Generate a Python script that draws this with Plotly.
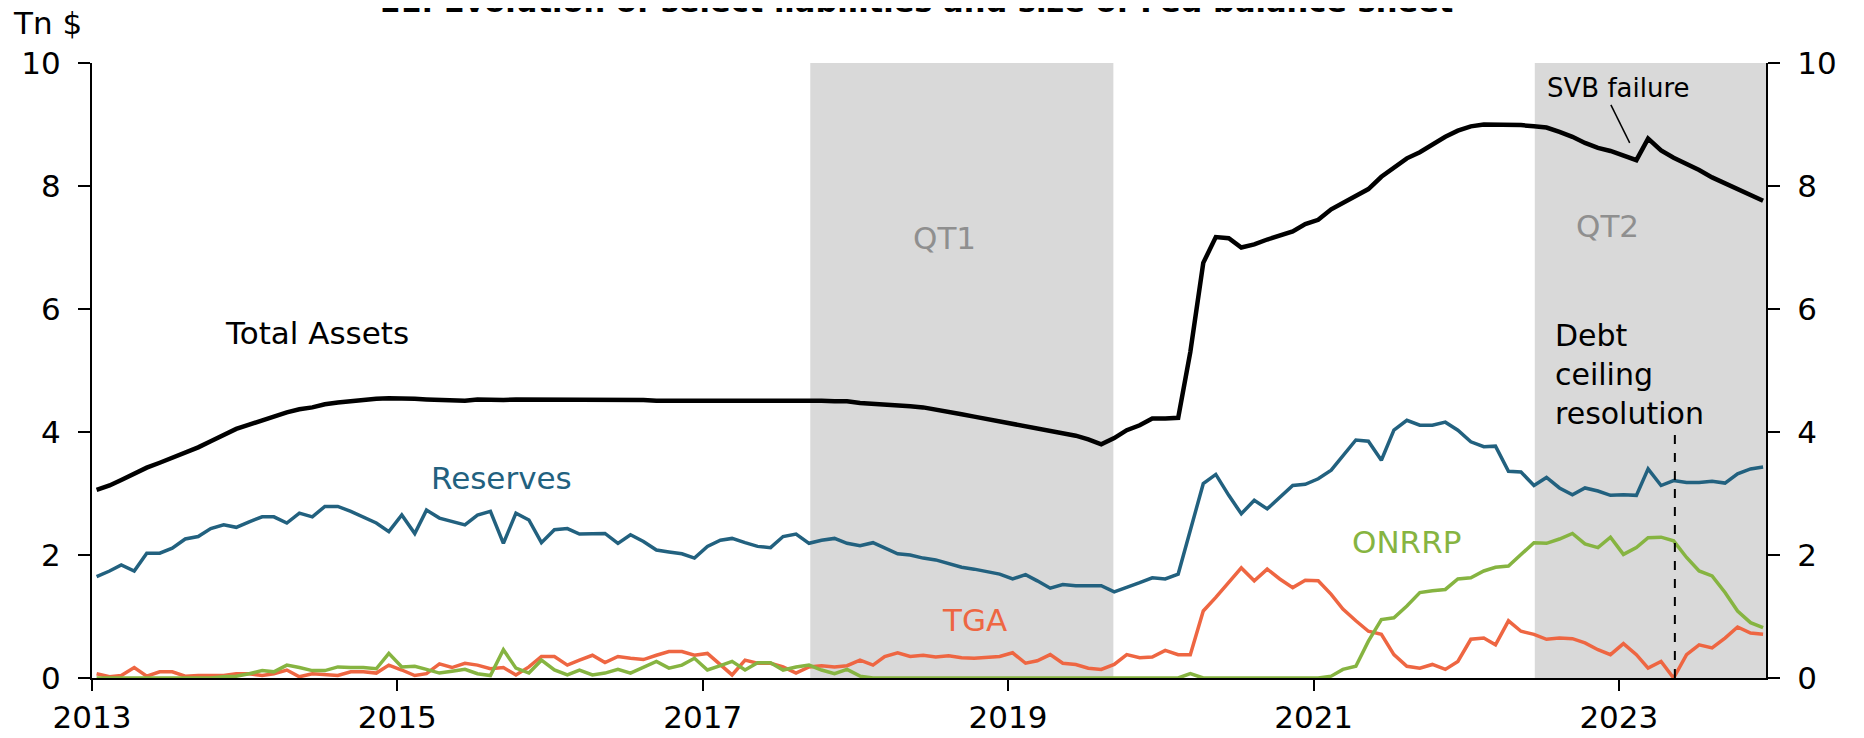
import pandas as pd
import plotly.graph_objects as go

# monthly observations, Jan 2013 - Dec 2023 (Tn $)
dates = pd.date_range("2013-01-01", periods=132, freq="MS") + pd.Timedelta(days=11)

total_assets = [
    3.06, 3.13, 3.22, 3.33, 3.42, 3.50, 3.58, 3.67, 3.75, 3.85, 3.95, 4.05,
    4.12, 4.18, 4.25, 4.32, 4.37, 4.40, 4.45, 4.48, 4.50, 4.53, 4.54, 4.55,
    4.55, 4.54, 4.53, 4.52, 4.52, 4.51, 4.53, 4.52, 4.52, 4.53, 4.53, 4.52,
    4.52, 4.52, 4.52, 4.53, 4.52, 4.52, 4.52, 4.52, 4.51, 4.51, 4.51, 4.51,
    4.51, 4.52, 4.52, 4.52, 4.52, 4.52, 4.52, 4.51, 4.52, 4.51, 4.50, 4.50,
    4.47, 4.46, 4.45, 4.44, 4.42, 4.40, 4.37, 4.33, 4.29, 4.25, 4.21, 4.16,
    4.13, 4.09, 4.05, 4.01, 3.98, 3.94, 3.88, 3.80, 3.90, 4.03, 4.11, 4.22,
    4.22, 4.23, 5.30, 6.75, 7.17, 7.15, 7.00, 7.05, 7.13, 7.20, 7.26, 7.38,
    7.45, 7.62, 7.72, 7.84, 7.95, 8.15, 8.30, 8.45, 8.55, 8.68, 8.80, 8.90,
    8.97, 9.00, 9.00, 9.00, 8.99, 8.97, 8.95, 8.88, 8.80, 8.70, 8.62, 8.57,
    8.50, 8.42, 8.77, 8.58, 8.46, 8.36, 8.26, 8.14, 8.04, 7.94, 7.84, 7.76,
]

reserves = [
    1.65, 1.74, 1.84, 1.74, 2.03, 2.03, 2.11, 2.26, 2.30, 2.43, 2.49, 2.45,
    2.54, 2.62, 2.62, 2.52, 2.68, 2.62, 2.79, 2.79, 2.71, 2.62, 2.52, 2.38,
    2.65, 2.35, 2.73, 2.60, 2.54, 2.49, 2.65, 2.71, 2.19, 2.68, 2.57, 2.20,
    2.41, 2.43, 2.34, 2.35, 2.35, 2.19, 2.33, 2.22, 2.08, 2.05, 2.02, 1.95,
    2.14, 2.24, 2.27, 2.20, 2.14, 2.12, 2.30, 2.34, 2.19, 2.24, 2.27, 2.19,
    2.15, 2.20, 2.11, 2.02, 2.00, 1.95, 1.92, 1.86, 1.80, 1.77, 1.73, 1.69,
    1.61, 1.68, 1.58, 1.46, 1.52, 1.50, 1.50, 1.50, 1.40, 1.47, 1.55, 1.63,
    1.61, 1.69, 2.40, 3.16, 3.31, 2.97, 2.67, 2.89, 2.75, 2.94, 3.13, 3.15,
    3.24, 3.38, 3.62, 3.87, 3.85, 3.54, 4.03, 4.19, 4.11, 4.11, 4.16, 4.03,
    3.84, 3.76, 3.77, 3.36, 3.35, 3.13, 3.26, 3.09, 2.98, 3.09, 3.04, 2.97,
    2.98, 2.97, 3.40, 3.13, 3.21, 3.18, 3.18, 3.20, 3.17, 3.32, 3.40, 3.43,
]

tga = [
    0.07, 0.02, 0.04, 0.17, 0.03, 0.10, 0.10, 0.03, 0.04, 0.04, 0.04, 0.07,
    0.07, 0.04, 0.07, 0.13, 0.02, 0.07, 0.06, 0.04, 0.10, 0.10, 0.08, 0.21,
    0.13, 0.04, 0.07, 0.23, 0.17, 0.24, 0.21, 0.15, 0.17, 0.05, 0.18, 0.35,
    0.35, 0.21, 0.29, 0.37, 0.25, 0.35, 0.32, 0.30, 0.37, 0.43, 0.43, 0.37,
    0.40, 0.21, 0.05, 0.29, 0.24, 0.24, 0.18, 0.08, 0.18, 0.20, 0.18, 0.20,
    0.29, 0.21, 0.35, 0.41, 0.35, 0.37, 0.34, 0.36, 0.33, 0.32, 0.33, 0.35,
    0.41, 0.24, 0.28, 0.38, 0.24, 0.22, 0.16, 0.14, 0.22, 0.38, 0.33, 0.34,
    0.45, 0.38, 0.38, 1.09, 1.31, 1.55, 1.79, 1.58, 1.77, 1.61, 1.47, 1.59,
    1.58, 1.36, 1.12, 0.93, 0.76, 0.71, 0.38, 0.19, 0.16, 0.22, 0.14, 0.27,
    0.63, 0.65, 0.54, 0.93, 0.76, 0.71, 0.63, 0.65, 0.64, 0.57, 0.46, 0.38,
    0.56, 0.38, 0.16, 0.27, 0.00, 0.38, 0.54, 0.49, 0.65, 0.83, 0.73, 0.71,
]

onrrp = [
    0.00, 0.00, 0.00, 0.00, 0.00, 0.00, 0.00, 0.00, 0.00, 0.00, 0.02, 0.03,
    0.07, 0.12, 0.10, 0.21, 0.17, 0.12, 0.12, 0.18, 0.17, 0.17, 0.15, 0.40,
    0.18, 0.19, 0.14, 0.08, 0.11, 0.14, 0.07, 0.04, 0.46, 0.16, 0.08, 0.29,
    0.13, 0.05, 0.13, 0.05, 0.08, 0.14, 0.08, 0.18, 0.27, 0.16, 0.21, 0.32,
    0.13, 0.20, 0.27, 0.13, 0.25, 0.25, 0.13, 0.18, 0.21, 0.13, 0.07, 0.14,
    0.03, 0.00, 0.00, 0.00, 0.00, 0.00, 0.00, 0.00, 0.00, 0.00, 0.00, 0.00,
    0.00, 0.00, 0.00, 0.00, 0.00, 0.00, 0.00, 0.00, 0.00, 0.00, 0.00, 0.00,
    0.00, 0.00, 0.07, 0.00, 0.00, 0.00, 0.00, 0.00, 0.00, 0.00, 0.00, 0.00,
    0.00, 0.03, 0.14, 0.19, 0.60, 0.95, 0.98, 1.17, 1.39, 1.42, 1.44, 1.61,
    1.63, 1.74, 1.80, 1.82, 2.01, 2.20, 2.19, 2.26, 2.35, 2.18, 2.12, 2.29,
    2.01, 2.12, 2.28, 2.29, 2.23, 1.96, 1.74, 1.66, 1.39, 1.09, 0.90, 0.82,
]

qt_periods = [("2017-09-15", "2019-09-10", "QT1"), ("2022-06-14", "2023-12-19", "QT2")]
debt_ceiling_date = "2023-05-15"
year_ticks = [2013, 2015, 2017, 2019, 2021, 2023]

FONT = "DejaVu Sans"
C_RES = "#22617f"
C_TGA = "#ee6642"
C_ONR = "#86b441"

fig = go.Figure()

fig.add_trace(go.Scatter(x=dates, y=reserves, mode="lines", line=dict(color=C_RES, width=3.5)))
fig.add_trace(go.Scatter(x=dates, y=tga, mode="lines", line=dict(color=C_TGA, width=3.5)))
fig.add_trace(go.Scatter(x=dates, y=onrrp, mode="lines", line=dict(color=C_ONR, width=3.5)))
fig.add_trace(go.Scatter(x=dates, y=total_assets, mode="lines", yaxis="y2",
                         line=dict(color="black", width=4.5)))

for start, end, name in qt_periods:
    fig.add_shape(type="rect", xref="x", yref="paper", x0=start, x1=end, y0=0, y1=1,
                  fillcolor="#d9d9d9", line=dict(width=0), layer="below")

fig.add_shape(type="line", xref="x", yref="y", x0=debt_ceiling_date, x1=debt_ceiling_date,
              y0=0, y1=3.95, line=dict(color="black", width=2, dash="dash"))
# SVB leader line
fig.add_shape(type="line", xref="x", yref="y", x0="2022-12-13", x1="2023-01-27",
              y0=9.32, y1=8.70, line=dict(color="black", width=1.5))

labels = [
    ("Total Assets", "2014-06-23", 5.61, "black", 31, "center"),
    ("Reserves", "2015-09-07", 3.25, C_RES, 31, "center"),
    ("TGA", "2018-10-12", 0.94, C_TGA, 31, "center"),
    ("ONRRP", "2021-08-10", 2.21, C_ONR, 31, "center"),
    ("QT1", "2018-08-03", 7.15, "#8f8f8f", 31, "center"),
    ("QT2", "2022-12-06", 7.35, "#8f8f8f", 31, "center"),
    ("SVB failure", "2023-01-01", 9.59, "black", 26, "center"),
    ("Debt<br>ceiling<br>resolution", "2022-07-27", 4.93, "black", 30, "left"),
]
for text, x, y, color, size, anchor in labels:
    fig.add_annotation(x=x, y=y, xref="x", yref="y", text=text, showarrow=False,
                       xanchor=anchor, yanchor="middle", align="left",
                       font=dict(family=FONT, size=size, color=color))

fig.add_annotation(x=0, y=1, xref="paper", yref="paper", text="Tn $", showarrow=False,
                   xanchor="left", yanchor="middle", xshift=-81, yshift=40,
                   font=dict(family=FONT, size=31, color="black"))
fig.add_annotation(x=0.492, y=1, xref="paper", yref="paper",
                   text="<b>11. Evolution of select liabilities and size of Fed balance sheet</b>",
                   showarrow=False, xanchor="center", yanchor="bottom", yshift=42,
                   font=dict(family=FONT, size=30.5, color="black"))

yax = dict(range=[0, 10], dtick=2, showgrid=False, zeroline=False, showline=True,
           linecolor="black", linewidth=2, ticks="outside", ticklen=12, tickwidth=2,
           tickcolor="black", ticklabelstandoff=11, automargin=False,
           tickfont=dict(family=FONT, size=31, color="black"))

# the page adds an 8px body margin, so the figure is 8px smaller each way
fig.update_layout(
    width=1856, height=730,
    margin=dict(l=84, r=98, t=55, b=60),
    paper_bgcolor="white", plot_bgcolor="white",
    showlegend=False,
    xaxis=dict(type="date", range=["2013-01-01", "2023-12-19"], automargin=False,
               tickvals=[f"{y}-01-01" for y in year_ticks], ticktext=[str(y) for y in year_ticks],
               showgrid=False, zeroline=False, showline=True, linecolor="black", linewidth=2,
               ticks="outside", ticklen=11, tickwidth=2, tickcolor="black", ticklabelstandoff=0,
               tickfont=dict(family=FONT, size=31, color="black")),
    yaxis=yax,
    yaxis2=dict(yax, overlaying="y", side="right"),
)

fig.write_html("out.html")
